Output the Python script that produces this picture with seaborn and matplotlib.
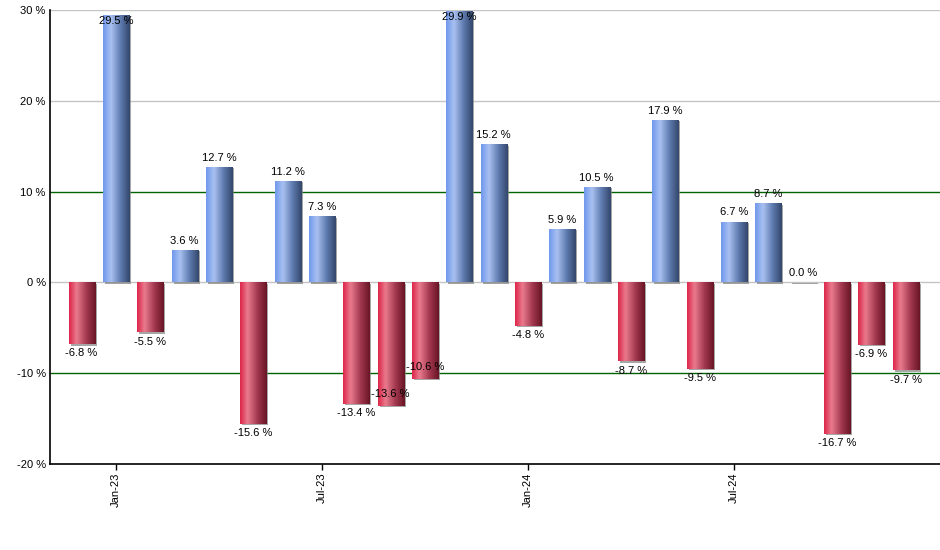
import numpy as np
import pandas as pd
import matplotlib
matplotlib.use('Agg')
import matplotlib.pyplot as plt
import matplotlib.patheffects as pe
from matplotlib.colors import LinearSegmentedColormap
import seaborn as sns

# Monthly returns, Dec-22 .. Dec-24
months = pd.date_range('2022-12-01', '2024-12-01', freq='MS').strftime('%b-%y').tolist()
returns = [-6.8, 29.5, -5.5, 3.6, 12.7, -15.6, 11.2, 7.3, -13.4, -13.6, -10.6, 29.9, 15.2,
           -4.8, 5.9, 10.5, -8.7, 17.9, -9.5, 6.7, 8.7, 0.04, -16.7, -6.9, -9.7]
tick_months = ['Jan-23', 'Jul-23', 'Jan-24', 'Jul-24']
y_ticks = [-20, -10, 0, 10, 20, 30]
# label nudges (points, upward) where the original chart moved labels to avoid overlap
label_nudge = {'Sep-23': 15, 'Oct-23': 15}

sns.set_theme(style='white')
plt.rcParams['font.family'] = ['Liberation Sans', 'DejaVu Sans']

BLUE = LinearSegmentedColormap.from_list(
    'blue_bar', [(0.0, '#6e97ec'), (0.3, '#a9c1f1'), (0.65, '#5f7bb0'), (1.0, '#33466a')])
RED = LinearSegmentedColormap.from_list(
    'red_bar', [(0.0, '#dc2448'), (0.28, '#ea7b8e'), (0.65, '#a2384f'), (1.0, '#681425')])

df = pd.DataFrame({'Month': months, 'Return': returns})
df['Sign'] = np.where(df['Return'] >= 0, 'pos', 'neg')

fig = plt.figure(figsize=(9.4, 5.5), dpi=100)
ax = fig.add_axes([50 / 940, 86 / 550, 890 / 940, 454 / 550])

sns.barplot(data=df, x='Month', y='Return', hue='Sign', dodge=False,
            palette={'pos': '#7f9fd8', 'neg': '#c8405a'}, width=0.76,
            legend=False, ax=ax, zorder=3, linewidth=0)

ax.set_ylim(-20, 30)
ax.set_xlim(-0.92, len(months) - 0.0)

# gradient fill clipped to every bar, plus a thin gray shadow
grad = np.linspace(0, 1, 256).reshape(1, -1)
bars = sorted(ax.patches, key=lambda p: p.get_x())
for patch in bars:
    x0, w = patch.get_x(), patch.get_width()
    y0, h = patch.get_y(), patch.get_height()
    if w == 0:
        continue
    val = y0 + h if h >= 0 else y0
    cmap = BLUE if (y0 + h) > 0 or (h > 0 and y0 >= 0) else RED
    patch.set_path_effects([pe.SimplePatchShadow(offset=(1.5, -1), shadow_rgbFace='#808080', alpha=0.7),
                            pe.Normal()])
    im = ax.imshow(grad, cmap=cmap, aspect='auto', extent=(x0, x0 + w, y0, y0 + h),
                   zorder=4, interpolation='bicubic')
    im.set_clip_path(patch)

# data labels
for i, (m, v) in enumerate(zip(months, returns)):
    txt = f'{v:.1f} %'
    nudge = label_nudge.get(m, 0)
    if v >= 0:
        if v > 28:
            ax.annotate(txt, (i, v), xytext=(0, -1), textcoords='offset points',
                        ha='center', va='top', fontsize=8, color='black', zorder=6)
        else:
            ax.annotate(txt, (i, v), xytext=(0, 3), textcoords='offset points',
                        ha='center', va='bottom', fontsize=8, color='black', zorder=6)
    else:
        ax.annotate(txt, (i, v), xytext=(0, -3 + nudge), textcoords='offset points',
                    ha='center', va='top', fontsize=8, color='black', zorder=6)

# grid lines
for yv in y_ticks[1:]:
    if abs(yv) == 10:
        ax.axhline(yv, color='#006400', lw=1, zorder=2)
    else:
        ax.axhline(yv, color='#c4c4c4', lw=1, zorder=2)

ax.set_yticks(y_ticks)
ax.set_yticklabels([f'{t} %' for t in y_ticks])
tick_pos = [months.index(m) for m in tick_months]
ax.set_xticks(tick_pos)
ax.set_xticklabels(tick_months, rotation=90)
ax.tick_params(axis='y', length=0, pad=3, labelsize=8, colors='black')
ax.tick_params(axis='x', length=4, width=1, pad=2, labelsize=8, colors='black', direction='out',
               bottom=True)
ax.set_xlabel('')
ax.set_ylabel('')

for side in ['top', 'right']:
    ax.spines[side].set_visible(False)
for side in ['left', 'bottom']:
    ax.spines[side].set_color('black')
    ax.spines[side].set_linewidth(1.2)
    ax.spines[side].set_zorder(5)

fig.savefig('out.png', dpi=100)
